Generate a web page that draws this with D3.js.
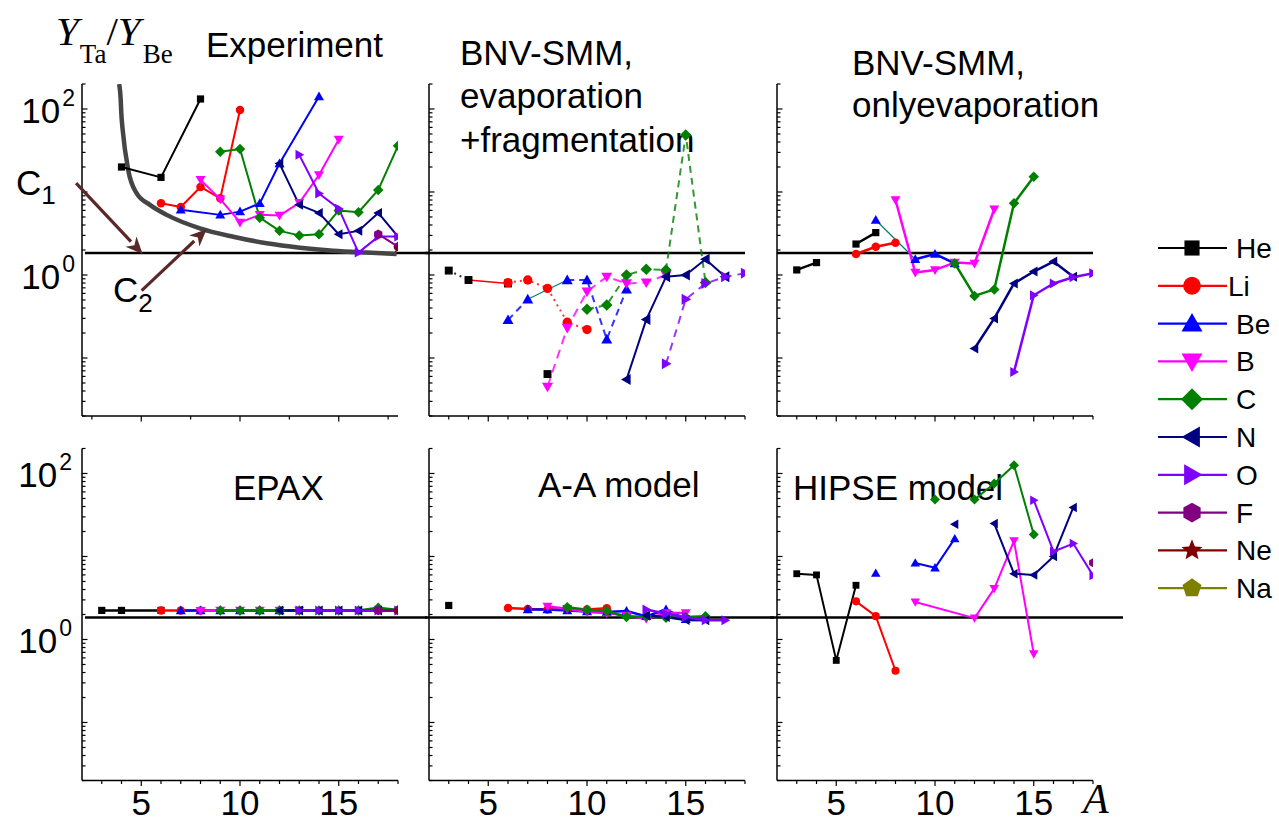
<!DOCTYPE html>
<html><head><meta charset="utf-8">
<script src="https://cdn.jsdelivr.net/npm/d3@7"></script>
<style>body{margin:0;background:#fff}svg{display:block}</style>
</head><body>
<svg id="chart" width="1279" height="823"></svg>
<script>
// ---------------- DATA ----------------
const elements = ["He","Li","Be","B","C","N","O","F","Ne","Na"];
const refRatio = 1.84;
const yLabelValues = [100, 1];
const xLabelValues = [5, 10, 15];
const topLeftTicks = [2.5, 5, 7.5, 10, 12.5, 15, 17.5];
const intTicks = [3,4,5,6,7,8,9,10,11,12,13,14,15,16,17,18];

const experiment = [
  ["He", [[4,20],[6,15],[8,132]]],
  ["Li", [[6,7.3],[7,6.6],[8,11.5],[9,8.4],[10,97]]],
  ["Be", [[7,6.1],[9,5.3],[10,5.8],[11,7.3],[12,22],[14,141]]],
  ["B",  [[8,14],[9,8.2],[10,4.3],[11,5.3],[12,5.2],[13,7.4],[14,16],[15,43]]],
  ["C",  [[9,30.6],[10,33],[11,4.9],[12,3.4],[13,3.0],[14,3.1],[15,6.0],[16,5.7],[17,10.6],[18,36]]],
  ["N",  [[12,22],[13,7.0],[14,5.6],[15,3.1],[16,3.4],[17,5.6],[18,2.9]]],
  ["O",  [[13,28],[14,9.6],[15,6.3],[16,1.86],[17,2.9],[18,2.9]]],
  ["F",  [[17,3.1],[18,2.2]]],
  ["Ne", [[18,2.1]]]
];
const fitCurve = [[3.88,200],[3.96,129],[3.99,89],[4.06,56],[4.34,18.4],[4.77,9.6],[5.44,7.0],[6.29,5.3],[7.97,3.65],[9.66,2.89],[11.35,2.41],[13.04,2.13],[14.71,1.96],[16.42,1.86],[17.93,1.79]];
const c1Arrow = [[1.70,12.8],[5.07,1.79]];
const c2Arrow = [[5.02,0.647],[8.31,3.55]];

const bnvFrag = [
  ["He", [[3,1.13],[4,0.87],[5,null],[6,0.79],[7,null],[8,0.064]]],
  ["Li", [[6,0.81],[7,0.87],[8,0.69],[9,0.27],[10,0.22]]],
  ["Be", [[6,0.287],[7,0.51],[8,null],[9,0.87],[10,0.87],[11,0.168],[12,0.67]]],
  ["B",  [[8,0.045],[9,0.23],[10,0.63],[11,0.95],[12,0.79],[13,0.81],[14,1.0]]],
  ["C",  [[10,0.386],[11,0.435],[12,1.0],[13,1.17],[14,1.15],[15,48.6],[16,0.81]]],
  ["N",  [[12,0.055],[13,0.29],[14,0.95],[15,1.0],[16,1.55],[17,0.95]]],
  ["O",  [[14,0.085],[15,0.51],[16,0.79],[17,0.95],[18,1.05]]]
];
const bnvFragLinks = [[[4,0.87],[6,0.79]], [[7,0.51],[9,0.87]]];

const bnvEvap = [
  ["He", [[3,1.15],[4,1.41],[5,null],[6,2.36],[7,3.24]]],
  ["Li", [[6,1.79],[7,2.19],[8,2.45]]],
  ["Be", [[7,4.6],[8,null],[9,1.55],[10,1.79],[11,1.38]]],
  ["B",  [[8,8.0],[9,1.07],[10,1.15],[11,1.41],[12,1.38],[13,6.2]]],
  ["C",  [[11,1.38],[12,0.56],[13,0.67],[14,7.3],[15,15.3]]],
  ["N",  [[12,0.13],[13,0.30],[14,0.79],[15,1.1],[16,1.45],[17,0.95]]],
  ["O",  [[14,0.068],[15,0.57],[16,0.79],[17,0.94],[18,1.05]]]
];
const bnvEvapLinks = [[[7,4.6],[9,1.55]]];

const epax = [
  ["He", [[3,2.24],[4,2.24],[6,2.24]]],
  ["Li", [[6,2.24],[7,2.24],[8,2.24]]],
  ["Be", [[7,2.24],[8,2.24],[9,2.24],[10,2.24],[11,2.24],[12,2.24]]],
  ["B",  [[8,2.22],[9,2.24],[10,2.24],[11,2.24],[12,2.24],[13,2.24]]],
  ["C",  [[9,2.24],[10,2.24],[11,2.24],[12,2.24],[13,2.24],[14,2.24],[15,2.24],[16,2.24],[17,2.42],[18,2.26]]],
  ["N",  [[12,2.24],[13,2.24],[14,2.24],[15,2.24],[16,2.24],[17,2.24],[18,2.24]]],
  ["O",  [[13,2.24],[14,2.24],[15,2.24],[16,2.24],[17,2.24],[18,2.24]]],
  ["F",  [[17,2.24],[18,2.24]]],
  ["Ne", [[18,2.22]]]
];

const aaModel = [
  ["He", [[3,2.57]]],
  ["Li", [[6,2.39],[7,2.33],[8,2.3],[9,2.3],[10,2.3],[11,2.38]]],
  ["Be", [[7,2.3],[8,2.3],[9,2.24],[10,2.18],[11,2.14],[12,2.2],[13,1.9],[14,2.3],[15,1.75]]],
  ["B",  [[8,2.5],[9,2.35],[10,2.14],[11,2.08],[12,1.95],[13,1.78],[14,2.08],[15,2.08]]],
  ["C",  [[9,2.45],[10,2.28],[11,2.2],[12,1.86],[13,1.9],[14,1.83],[15,1.86],[16,1.9]]],
  ["N",  [[13,1.95],[14,1.86],[15,1.72],[16,1.7]]],
  ["O",  [[13,2.3],[14,2.04],[15,1.86],[16,1.7],[17,1.7]]]
];

const hipse = [
  ["He", [[3,6.2],[4,6.0],[5,0.56],[6,4.5]]],
  ["Li", [[6,2.88],[7,1.91],[8,0.42]]],
  ["Be", [[7,6.3],[8,null],[9,8.35],[10,7.3],[11,16.4]]],
  ["B",  [[9,2.83],[12,1.81],[13,4.1],[14,15.4],[15,0.67]]],
  ["C",  [[10,48.5],[11,null],[12,48.5],[13,75.7],[14,126],[15,18.4]]],
  ["N",  [[11,24.4],[12,null],[13,24.9],[14,6.2],[15,6.0],[16,10.0],[17,38.9]]],
  ["O",  [[15,47.6],[16,11.5],[17,14.3],[18,5.9]]],
  ["F",  [[18,8.4]]]
];

// ---------------- STYLE ----------------
const colors = {He:"#000000",Li:"#ff0000",Be:"#0000ff",B:"#ff00ff",C:"#008000",N:"#000080",O:"#8000ff",F:"#800080",Ne:"#800000",Na:"#808000"};
const shapes = {He:"square",Li:"circle",Be:"up",B:"down",C:"diamond",N:"left",O:"right",F:"hexagon",Ne:"star",Na:"pentagon"};
const baseSize = {square:8,circle:8.5,up:10,down:10,diamond:10.5,left:10,right:10,hexagon:9.5,star:10.5,pentagon:9.5};
const SANS = "'Liberation Sans', Arial, Helvetica, sans-serif";
const SERIF = "'Liberation Serif', 'Times New Roman', serif";
const PW = 316, PH = 332;

function markerPath(shape, s) {
  const h = s / 2;
  const poly = pts => "M" + pts.map(p => p[0].toFixed(2) + "," + p[1].toFixed(2)).join("L") + "Z";
  switch (shape) {
    case "square": { const a = h * 0.9; return poly([[-a,-a],[a,-a],[a,a],[-a,a]]); }
    case "circle": { const r = h; return `M${r},0A${r},${r},0,1,1,${-r},0A${r},${r},0,1,1,${r},0Z`; }
    case "up": return poly([[0,-h],[h,h*0.75],[-h,h*0.75]]);
    case "down": return poly([[0,h],[h,-h*0.75],[-h,-h*0.75]]);
    case "left": return poly([[-h,0],[h*0.75,-h],[h*0.75,h]]);
    case "right": return poly([[h,0],[-h*0.75,-h],[-h*0.75,h]]);
    case "diamond": return poly([[0,-h],[h,0],[0,h],[-h,0]]);
    case "hexagon": return poly(d3.range(6).map(k => { const a = -Math.PI/2 + k*Math.PI/3; return [h*Math.cos(a), h*Math.sin(a)]; }));
    case "star": return poly(d3.range(10).map(k => { const a = -Math.PI/2 + k*Math.PI/5; const r = k % 2 ? h*0.45 : h; return [r*Math.cos(a), r*Math.sin(a)]; }));
    case "pentagon": return poly(d3.range(5).map(k => { const a = -Math.PI/2 + k*2*Math.PI/5; return [h*Math.cos(a), h*Math.sin(a)]; }));
  }
}

const panels = [
  {x0:82,  y0:84,    data:experiment, titles:[["Experiment",206,57]], lw:2, ms:1.0, xTicks:topLeftTicks, yLabels:true,  xLabels:false, ref:[2.15,19.62], labelRight:58},
  {x0:429, y0:84,    data:bnvFrag, titles:[["BNV-SMM,",460,65],["evaporation",460,108],["+fragmentation",460,152]], lw:2, ms:1.1, xTicks:intTicks, yLabels:false, xLabels:false, ref:[1.8,18],
     dash:{He:"2,4",Li:"2,4",Be:"7,5",B:"9,6",C:"7,5",O:"8,6"}, links:bnvFragLinks, linkColors:["#ff0000","#008080"]},
  {x0:777, y0:84,    data:bnvEvap, titles:[["BNV-SMM,",852,75],["onlyevaporation",852,117]], lw:2.5, ms:1.0, xTicks:intTicks, yLabels:false, xLabels:false, ref:[2,18],
     links:bnvEvapLinks, linkColors:["#008080"]},
  {x0:82,  y0:448.5, data:epax, titles:[["EPAX",233,500]], lw:2.5, ms:1.0, xTicks:intTicks, yLabels:true, xLabels:true, ref:[2.15,19.47], labelRight:55},
  {x0:429, y0:448.5, data:aaModel, titles:[["A-A model",538,497]], lw:2.5, ms:1.0, xTicks:intTicks, yLabels:false, xLabels:true, ref:[1.8,19.47]},
  {x0:777, y0:448.5, data:hipse, titles:[["HIPSE model",793,500]], lw:2, ms:0.95, xTicks:intTicks, yLabels:false, xLabels:true, ref:[1.65,19.52]}
];

const svg = d3.select("#chart");
const defs = svg.append("defs");

panels.forEach((p, pi) => {
  const x = d3.scaleLinear().domain([2, 18]).range([p.x0, p.x0 + PW]);
  const y = d3.scaleLog().domain([0.02, 200]).range([p.y0 + PH, p.y0]);
  const g = svg.append("g");
  const clipId = "clip" + pi;
  defs.append("clipPath").attr("id", clipId).append("rect")
    .attr("x", p.x0).attr("y", p.y0).attr("width", PW).attr("height", PH);

  p.titles.forEach(t => {
    g.append("text").attr("x", t[1]).attr("y", t[2]).text(t[0])
      .attr("font-family", SANS).attr("font-size", 35).attr("fill", "#000");
  });

  g.append("line").attr("x1", p.x0).attr("x2", p.x0).attr("y1", p.y0).attr("y2", p.y0 + PH)
    .attr("stroke", "#000").attr("stroke-width", 1.5);
  y.ticks().forEach(v => {
    const major = Math.abs(Math.log10(v) - Math.round(Math.log10(v))) < 1e-9;
    g.append("line").attr("x1", p.x0).attr("x2", p.x0 + (major ? 5.5 : 3.5))
      .attr("y1", y(v)).attr("y2", y(v)).attr("stroke", "#000").attr("stroke-width", 1.2);
  });
  if (p.yLabels) {
    yLabelValues.forEach(v => {
      const t = g.append("text").attr("x", p.labelRight).attr("y", y(v) + 14).attr("text-anchor", "end")
        .attr("font-family", SANS);
      t.append("tspan").attr("font-size", 35).text("10");
      t.append("tspan").attr("font-size", 23).attr("dx", 2).attr("dy", -17).text(String(Math.round(Math.log10(v))));
      t.attr("x", p.labelRight + 17);
    });
  }
  const yb = p.y0 + PH;
  g.append("line").attr("x1", p.x0).attr("x2", p.x0 + PW).attr("y1", yb).attr("y2", yb)
    .attr("stroke", "#000").attr("stroke-width", 1.5);
  p.xTicks.forEach(v => {
    const major = v % 5 === 0;
    g.append("line").attr("x1", x(v)).attr("x2", x(v)).attr("y1", yb).attr("y2", yb + (major ? 5.5 : 3.5))
      .attr("stroke", "#000").attr("stroke-width", 1.2);
  });
  if (p.xLabels) {
    xLabelValues.forEach(v => {
      g.append("text").attr("x", x(v)).attr("y", 815).attr("text-anchor", "middle")
        .attr("font-family", SANS).attr("font-size", 35).text(v);
    });
  }

  g.append("line").attr("x1", x(p.ref[0])).attr("x2", x(p.ref[1]))
    .attr("y1", y(refRatio)).attr("y2", y(refRatio)).attr("stroke", "#000").attr("stroke-width", 2.5);

  const dg = g.append("g").attr("clip-path", `url(#${clipId})`);

  if (pi === 0) {
    const curve = d3.line().x(d => x(d[0])).y(d => y(d[1])).curve(d3.curveMonotoneX);
    dg.append("path").attr("d", curve(fitCurve)).attr("fill", "none")
      .attr("stroke", "#454545").attr("stroke-width", 4.5);
  }

  const line = d3.line().defined(d => d[1] !== null).x(d => x(d[0])).y(d => y(d[1]));
  (p.links || []).forEach((lk, i) => {
    dg.append("path").attr("d", line(lk)).attr("fill", "none")
      .attr("stroke", p.linkColors[i]).attr("stroke-width", 1.3);
  });
  p.data.forEach(([el, pts]) => {
    const dash = p.dash ? p.dash[el] : null;
    dg.append("path").attr("d", line(pts)).attr("fill", "none")
      .attr("stroke", colors[el]).attr("stroke-width", p.lw)
      .attr("stroke-dasharray", dash || null)
      .attr("opacity", dash ? 0.8 : 1)
      .attr("stroke-linejoin", "round");
  });
  p.data.forEach(([el, pts]) => {
    const sh = shapes[el];
    dg.selectAll(null).data(pts.filter(d => d[1] !== null)).enter().append("path")
      .attr("transform", d => `translate(${x(d[0])},${y(d[1])})`)
      .attr("d", markerPath(sh, baseSize[sh] * p.ms))
      .attr("fill", colors[el]);
  });

  if (pi === 0) {
    [c1Arrow, c2Arrow].forEach(arr => {
      const x1 = x(arr[0][0]), y1 = y(arr[0][1]), x2 = x(arr[1][0]), y2 = y(arr[1][1]);
      const ang = Math.atan2(y2 - y1, x2 - x1);
      const L = 17, W = 7.5;
      const bx = x2 - L * Math.cos(ang), by = y2 - L * Math.sin(ang);
      g.append("line").attr("x1", x1).attr("y1", y1).attr("x2", bx).attr("y2", by)
        .attr("stroke", "#5a2828").attr("stroke-width", 3.2);
      const px = -Math.sin(ang), py = Math.cos(ang);
      g.append("path").attr("d", `M${x2},${y2}L${bx + W*px},${by + W*py}L${bx + 5*Math.cos(ang)},${by + 5*Math.sin(ang)}L${bx - W*px},${by - W*py}Z`)
        .attr("fill", "#5a2828");
    });
    const c1 = g.append("text").attr("x", 16).attr("y", 195).attr("font-family", SANS);
    c1.append("tspan").attr("font-size", 35).text("C");
    c1.append("tspan").attr("font-size", 26).attr("dy", 9).text("1");
    const c2 = g.append("text").attr("x", 113).attr("y", 302).attr("font-family", SANS);
    c2.append("tspan").attr("font-size", 35).text("C");
    c2.append("tspan").attr("font-size", 26).attr("dy", 10).text("2");
  }
});

// Y axis title (single text element)
const yt = svg.append("text").attr("x", 56).attr("y", 45).attr("font-family", SERIF);
yt.append("tspan").attr("font-size", 41).attr("font-style", "italic").text("Y");
yt.append("tspan").attr("font-size", 27).attr("dy", 18).attr("dx", 1).text("Ta");
yt.append("tspan").attr("font-size", 41).attr("dy", -18).text("/");
yt.append("tspan").attr("font-size", 41).attr("font-style", "italic").text("Y");
yt.append("tspan").attr("font-size", 27).attr("dy", 18).attr("dx", 2).text("Be");
// X axis title
svg.append("text").attr("x", 1083).attr("y", 813).attr("font-family", SERIF).attr("font-style", "italic")
  .attr("font-size", 42).text("A");

// Legend
const lg = svg.append("g");
elements.forEach((el, i) => {
  const ly = 248 + i * 37.8;
  lg.append("line").attr("x1", 1158).attr("x2", 1227).attr("y1", ly).attr("y2", ly)
    .attr("stroke", colors[el]).attr("stroke-width", 2.2);
  lg.append("path").attr("transform", `translate(1192,${ly})`)
    .attr("d", markerPath(shapes[el], baseSize[shapes[el]] * 2.1)).attr("fill", colors[el]);
  lg.append("text").attr("x", el === "Li" ? 1228 : 1236).attr("y", ly + 10)
    .attr("font-family", SANS).attr("font-size", 28).text(el);
});
</script>
</body></html>
